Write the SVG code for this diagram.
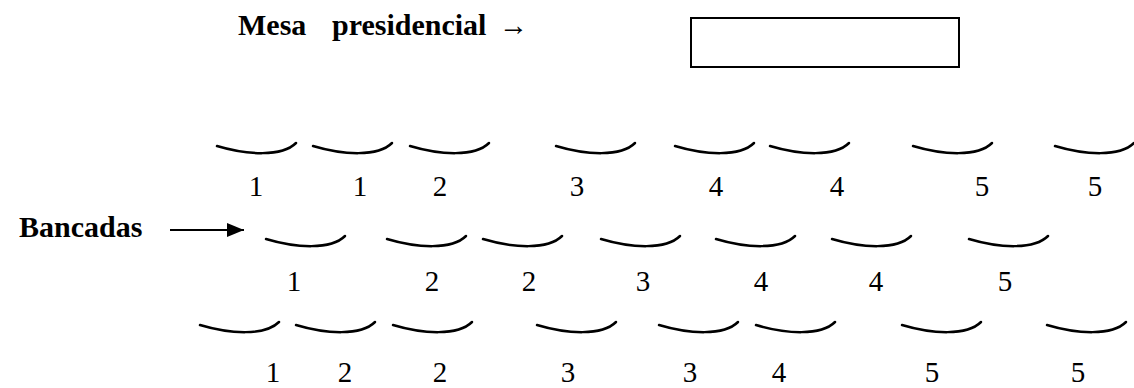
<svg xmlns="http://www.w3.org/2000/svg" xmlns:xlink="http://www.w3.org/1999/xlink" width="1134" height="388" viewBox="0 0 1134 388">
<style>
.lbl{font-family:"Liberation Serif","Times New Roman",serif;font-weight:bold;font-size:30px;fill:#000}
.num{font-family:"Liberation Serif","Times New Roman",serif;font-size:29px;fill:#000;text-anchor:middle}
.seat{fill:none;stroke:#000;stroke-width:2.5;stroke-linecap:round}
</style>
<defs>
<path id="arc" class="seat" d="M0,3 C30,12 65,14 79,0"/>
<marker id="ah" markerWidth="17" markerHeight="14" refX="17" refY="7" orient="auto" markerUnits="userSpaceOnUse">
<path d="M0,0 L17,7 L0,14 Z" fill="#000"/>
</marker>
</defs>
<rect width="1134" height="388" fill="#fff"/>
<g id="mesa-label">
<text class="lbl" x="238" y="35">Mesa</text>
<text class="lbl" x="332" y="35">presidencial</text>
<text class="lbl" x="499" y="35" textLength="29" lengthAdjust="spacingAndGlyphs">→</text>
</g>
<g id="mesa">
<rect x="691" y="18" width="268" height="49" fill="none" stroke="#000" stroke-width="2"/>
</g>
<g id="bancadas-label">
<text class="lbl" x="19" y="237">Bancadas</text>
</g>
<g id="connectors">
<line x1="170" y1="230" x2="244" y2="230" stroke="#000" stroke-width="2" marker-end="url(#ah)"/>
</g>
<g id="row1">
<use xlink:href="#arc" x="217" y="143"/>
<use xlink:href="#arc" x="313" y="143"/>
<use xlink:href="#arc" x="410" y="143"/>
<use xlink:href="#arc" x="556" y="143"/>
<use xlink:href="#arc" x="675" y="143"/>
<use xlink:href="#arc" x="770" y="143"/>
<use xlink:href="#arc" x="913" y="143"/>
<use xlink:href="#arc" x="1055" y="143"/>
<text class="num" x="256" y="196">1</text>
<text class="num" x="360" y="196">1</text>
<text class="num" x="440" y="196">2</text>
<text class="num" x="577" y="196">3</text>
<text class="num" x="716" y="196">4</text>
<text class="num" x="837" y="196">4</text>
<text class="num" x="982" y="196">5</text>
<text class="num" x="1095" y="196">5</text>
</g>
<g id="row2">
<use xlink:href="#arc" x="266" y="236"/>
<use xlink:href="#arc" x="387" y="236"/>
<use xlink:href="#arc" x="483" y="236"/>
<use xlink:href="#arc" x="601" y="236"/>
<use xlink:href="#arc" x="716" y="236"/>
<use xlink:href="#arc" x="832" y="236"/>
<use xlink:href="#arc" x="969" y="236"/>
<text class="num" x="294" y="291">1</text>
<text class="num" x="432" y="291">2</text>
<text class="num" x="529" y="291">2</text>
<text class="num" x="643" y="291">3</text>
<text class="num" x="761" y="291">4</text>
<text class="num" x="876" y="291">4</text>
<text class="num" x="1005" y="291">5</text>
</g>
<g id="row3">
<use xlink:href="#arc" x="200" y="322"/>
<use xlink:href="#arc" x="296" y="322"/>
<use xlink:href="#arc" x="393" y="322"/>
<use xlink:href="#arc" x="537" y="322"/>
<use xlink:href="#arc" x="659" y="322"/>
<use xlink:href="#arc" x="756" y="322"/>
<use xlink:href="#arc" x="902" y="322"/>
<use xlink:href="#arc" x="1047" y="322"/>
<text class="num" x="273" y="382">1</text>
<text class="num" x="345" y="382">2</text>
<text class="num" x="440" y="382">2</text>
<text class="num" x="568" y="382">3</text>
<text class="num" x="690" y="382">3</text>
<text class="num" x="779" y="382">4</text>
<text class="num" x="932" y="382">5</text>
<text class="num" x="1078" y="382">5</text>
</g>
</svg>
